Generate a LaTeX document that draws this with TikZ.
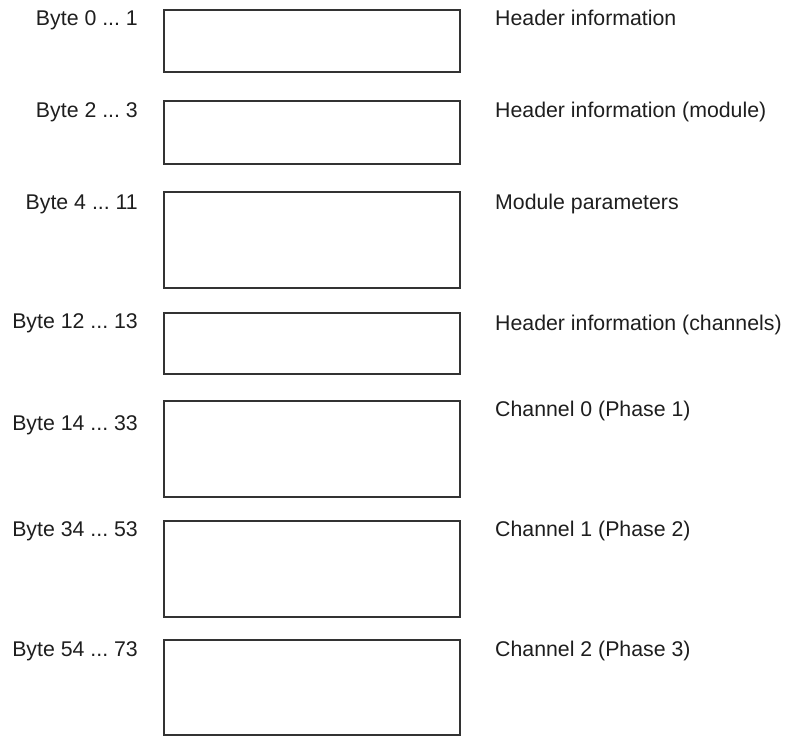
\documentclass[tikz,border=0pt]{standalone}
\usepackage{fontspec}
\setmainfont{Liberation Sans}
\usepackage{xcolor}
\usetikzlibrary{positioning}
\definecolor{frameline}{HTML}{333333}
\definecolor{labeltext}{HTML}{1E1E1E}
\tikzset{
    field/.style={rectangle, draw=frameline, line width=2pt, inner sep=0pt, minimum width=295.5pt},
    bytes/.style={anchor=base east, inner sep=0pt, text=labeltext, font=\fontsize{21.3}{25}\selectfont\frenchspacing},
    meaning/.style={anchor=base west, inner sep=0pt, text=labeltext, font=\fontsize{21.3}{25}\selectfont\frenchspacing},
}

\begin{document}
\begin{tikzpicture}[x=1pt, y=-1pt]
    \useasboundingbox (0,0) rectangle (787,737);

    % data record fields
    \node[field, minimum height=62.5pt] (hdr)  at (312.2,40.8)  {};
    \node[field, minimum height=63.3pt] (mod)  at (312.2,132.3) {};
    \node[field, minimum height=96pt]   (par)  at (312.2,240)   {};
    \node[field, minimum height=61.6pt] (chh)  at (312.2,343.5) {};
    \node[field, minimum height=96pt]   (ch0)  at (312.2,449.3) {};
    \node[field, minimum height=95.4pt] (ch1)  at (312.2,569)   {};
    \node[field, minimum height=95pt]   (ch2)  at (312.2,687.8) {};

    % byte ranges
    \node[bytes] (hdrB) at (138,25)  {Byte 0 ... 1};
    \node[bytes] (modB) at (138,117) {Byte 2 ... 3};
    \node[bytes] (parB) at (138,209) {Byte 4 ... 11};
    \node[bytes] (chhB) at (138,328) {Byte 12 ... 13};
    \node[bytes] (ch0B) at (138,430) {Byte 14 ... 33};
    \node[bytes] (ch1B) at (138,536) {Byte 34 ... 53};
    \node[bytes] (ch2B) at (138,656) {Byte 54 ... 73};

    % contents
    \node[meaning] (hdrT) at (495,25)  {Header information};
    \node[meaning] (modT) at (495,117) {Header information (module)};
    \node[meaning] (parT) at (495,209) {Module parameters};
    \node[meaning] (chhT) at (495,330) {Header information (channels)};
    \node[meaning] (ch0T) at (495,416) {Channel 0 (Phase 1)};
    \node[meaning] (ch1T) at (495,536) {Channel 1 (Phase 2)};
    \node[meaning] (ch2T) at (495,656) {Channel 2 (Phase 3)};
\end{tikzpicture}
\end{document}
